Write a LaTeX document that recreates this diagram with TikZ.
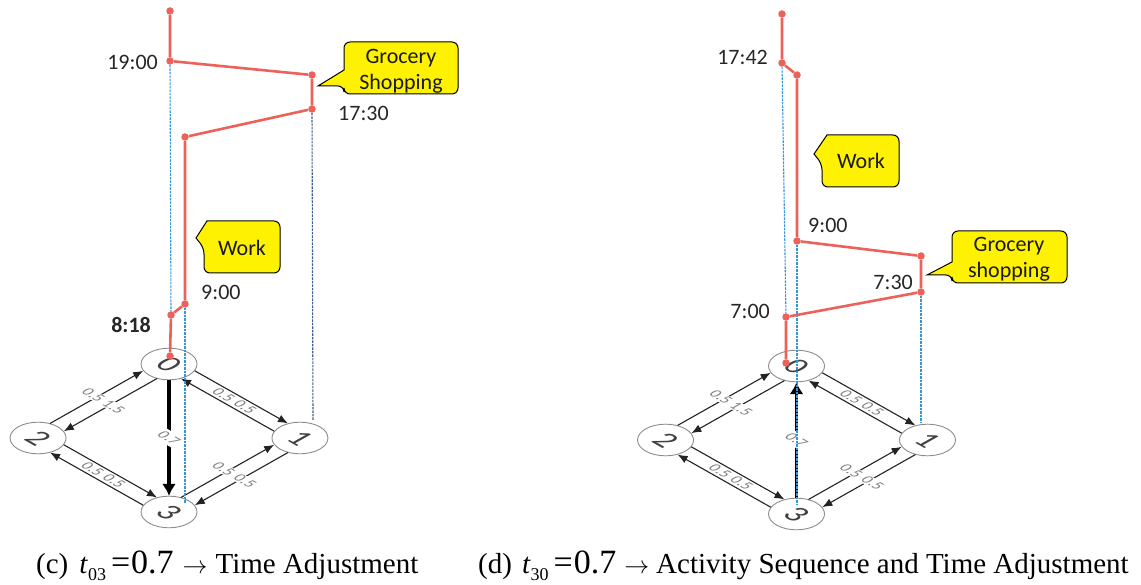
\documentclass[tikz,border=0pt]{standalone}
\usepackage{fontspec}
\setmainfont{Liberation Serif}
\newfontfamily\carl{Carlito}
\usetikzlibrary{arrows.meta}
\definecolor{redl}{RGB}{236,98,90}
\definecolor{bluel}{RGB}{50,150,215}
\definecolor{blued}{RGB}{60,95,140}
\definecolor{yel}{RGB}{255,242,0}
\definecolor{edg}{RGB}{35,35,35}
\begin{document}
\begin{tikzpicture}[x=1pt,y=-1pt,
  gnode/.style={circle,draw=black!45,line width=0.9pt,minimum size=56pt,inner sep=0pt,
    transform shape,font=\carl\fontsize{38}{38}\selectfont,text=black!75},
  elbl/.style={transform shape,font=\carl\fontsize{19}{19}\selectfont,text=black!50,fill=white,inner sep=1pt},
  garrow/.style={draw=edg,line width=1.1pt,-{Latex[length=10pt,width=8pt]}},
  tarrow/.style={draw=black,line width=3.8pt,-{Latex[length=12pt,width=14pt]}},
  redpath/.style={draw=redl,line width=2.6pt},
  dot/.style={circle,fill=redl,inner sep=0pt,minimum size=7.5pt},
  dotline/.style={draw=bluel,line width=1.1pt,dash pattern=on 2.5pt off 1pt},
  dotdark/.style={draw=blued,line width=1.1pt,dash pattern=on 2.5pt off 1pt},
  tlbl/.style={font=\carl\fontsize{22}{26}\selectfont,text=black!85,inner sep=0pt},
  callout/.style={fill=yel,draw=black,line width=1pt},
  ctext/.style={font=\carl\fontsize{22}{26}\selectfont,align=center,inner sep=0pt,text=black!90},
  captxt/.style={anchor=base west,inner sep=0pt}
]
\useasboundingbox (0,0) rectangle (1141,585);

% ---------------- left graph ----------------
\begin{scope}[y=1pt,cm={0.7071,-0.3995,0.7071,0.3995,(169,-438)}]
  \node[gnode] (a0) at (-92.6,92.6) {0};
  \node[gnode] (a1) at (92.6,92.6) {1};
  \node[gnode] (a2) at (-92.6,-92.6) {2};
  \node[gnode] (a3) at (92.6,-92.6) {3};
  \draw[garrow] (a0.20) -- (a1.160);
  \draw[garrow] (a1.200) -- (a0.340);
  \draw[garrow] (a2.110) -- (a0.250);
  \draw[garrow] (a0.290) -- (a2.70);
  \draw[garrow] (a2.20) -- (a3.160);
  \draw[garrow] (a3.200) -- (a2.340);
  \draw[garrow] (a3.110) -- (a1.250);
  \draw[garrow] (a1.290) -- (a3.70);
  \draw[tarrow] (a0.315) -- (a3.135);
  \node[elbl,anchor=east] (la1) at (-2,92.6) {0.5};
  \node[elbl,anchor=west] (la2) at (2,92.6) {0.5};
  \node[elbl,anchor=east] (la3) at (-93.6,0) {0.5};
  \node[elbl,anchor=west] (la4) at (-91.6,0) {1.5};
  \node[elbl,anchor=east] (la5) at (-2,-92.6) {0.5};
  \node[elbl,anchor=west] (la6) at (2,-92.6) {0.5};
  \node[elbl,anchor=east] (la7) at (90.6,0) {0.5};
  \node[elbl,anchor=west] (la8) at (94.6,0) {0.5};
  \node[elbl,inner sep=4pt] (la9) at (0,0) {0.7};
\end{scope}

% ---------------- right graph ----------------
\begin{scope}[y=1pt,cm={0.7071,-0.3995,0.7071,0.3995,(796.5,-440)}]
  \node[gnode] (b0) at (-92.6,92.6) {0};
  \node[gnode] (b1) at (92.6,92.6) {1};
  \node[gnode] (b2) at (-92.6,-92.6) {2};
  \node[gnode] (b3) at (92.6,-92.6) {3};
  \draw[garrow] (b0.20) -- (b1.160);
  \draw[garrow] (b1.200) -- (b0.340);
  \draw[garrow] (b2.110) -- (b0.250);
  \draw[garrow] (b0.290) -- (b2.70);
  \draw[garrow] (b2.20) -- (b3.160);
  \draw[garrow] (b3.200) -- (b2.340);
  \draw[garrow] (b3.110) -- (b1.250);
  \draw[garrow] (b1.290) -- (b3.70);
  \draw[tarrow] (b3.135) -- (b0.315);
  \node[elbl,anchor=east] (lb1) at (-2,92.6) {0.5};
  \node[elbl,anchor=west] (lb2) at (2,92.6) {0.5};
  \node[elbl,anchor=east] (lb3) at (-93.6,0) {0.5};
  \node[elbl,anchor=west] (lb4) at (-91.6,0) {1.5};
  \node[elbl,anchor=east] (lb5) at (-2,-92.6) {0.5};
  \node[elbl,anchor=west] (lb6) at (2,-92.6) {0.5};
  \node[elbl,anchor=east] (lb7) at (90.6,0) {0.5};
  \node[elbl,anchor=west] (lb8) at (94.6,0) {0.5};
  \node[elbl,inner sep=4pt] (lb9) at (0,0) {0.7};
\end{scope}

% ---------------- left timeline ----------------
\node[dot] (l1) at (170,11) {};
\node[dot] (l2) at (170,61) {};
\node[dot] (l3) at (312,75) {};
\node[dot] (l4) at (312,109) {};
\node[dot] (l5) at (185,137) {};
\node[dot] (l6) at (185,304) {};
\node[dot] (l7) at (171,315) {};
\node[dot] (l8) at (170,356) {};
\coordinate (le1) at (185,503);
\coordinate (le2) at (313,420);
\draw[dotline] (l2) -- (l7);
\draw[dotline] (l6) -- (le1);
\draw[dotdark] (l4) -- (le2);
\draw[redpath] (l1) -- (l2) -- (l3) -- (l4) -- (l5) -- (l6) -- (l7) -- (l8);

\node[tlbl,anchor=east] (t1900) at (158,62) {19:00};
\node[tlbl,anchor=west] (t1730) at (338,113) {17:30};
\node[tlbl,anchor=west] (t900a) at (201,292) {9:00};
\node[tlbl,anchor=east,font=\carl\bfseries\fontsize{22}{26}\selectfont] (t818) at (151,325) {8:18};

\draw[callout] (344,70) [rounded corners=6pt] -- (344,42) -- (458,42) -- (458,94) -- (344,94) -- (344,86) [sharp corners] -- (318,86) -- cycle;
\node[ctext] (cgl) at (401,71) {Grocery\\Shopping};
\draw[callout] (207,221) [rounded corners=6pt] -- (280,221) -- (280,273) -- (204,273) -- (204,248) [sharp corners] -- (196,238) -- cycle;
\node[ctext] (cwl) at (242,248) {Work};

% ---------------- right timeline ----------------
\node[dot] (r1) at (782,14) {};
\node[dot] (r2) at (782,63) {};
\node[dot] (r3) at (797,75) {};
\node[dot] (r4) at (797,241) {};
\node[dot] (r5) at (921,256) {};
\node[dot] (r6) at (921,292) {};
\node[dot] (r7) at (786,317) {};
\node[dot] (r8) at (786,363) {};
\coordinate (re1) at (797,505);
\coordinate (re2) at (921,423);
\draw[dotline] (r2) -- (r7);
\draw[dotline] (r4) -- (re1);
\draw[dotline] (r6) -- (re2);
\draw[redpath] (r1) -- (r2) -- (r3) -- (r4) -- (r5) -- (r6) -- (r7) -- (r8);

\node[tlbl,anchor=east] (t1742) at (768,57) {17:42};
\node[tlbl,anchor=west] (t900b) at (808,225) {9:00};
\node[tlbl,anchor=east] (t730) at (913,282) {7:30};
\node[tlbl,anchor=east] (t700) at (770,311) {7:00};

\draw[callout] (827,135) [rounded corners=6pt] -- (899,135) -- (899,187) -- (822,187) -- (822,164) [sharp corners] -- (814,154) -- cycle;
\node[ctext] (cwr) at (861,161) {Work};
\draw[callout] (952,262) [rounded corners=6pt] -- (952,231) -- (1067,231) -- (1067,283) -- (952,283) -- (952,275) [sharp corners] -- (927,275) -- cycle;
\node[ctext] (cgr) at (1009,259) {Grocery\\shopping};

% ---------------- captions ----------------
\node[captxt] (capc) at (36,573) {\fontsize{29}{30}\selectfont (c)\hspace{11pt}\textit{t}\raisebox{-7pt}{\fontsize{18}{18}\selectfont 03}\hspace{5pt}{\fontsize{34}{34}\selectfont =\hspace{1pt}0.7}\hspace{9pt}$\rightarrow$\hspace{8pt}Time Adjustment};
\node[captxt] (capd) at (478,573) {\fontsize{29}{30}\selectfont (d)\hspace{10pt}\textit{t}\raisebox{-7pt}{\fontsize{18}{18}\selectfont 30}\hspace{5pt}{\fontsize{34}{34}\selectfont =\hspace{1pt}0.7}\hspace{8pt}$\rightarrow$\hspace{7pt}Activity Sequence and Time Adjustment};
\end{tikzpicture}
\end{document}
